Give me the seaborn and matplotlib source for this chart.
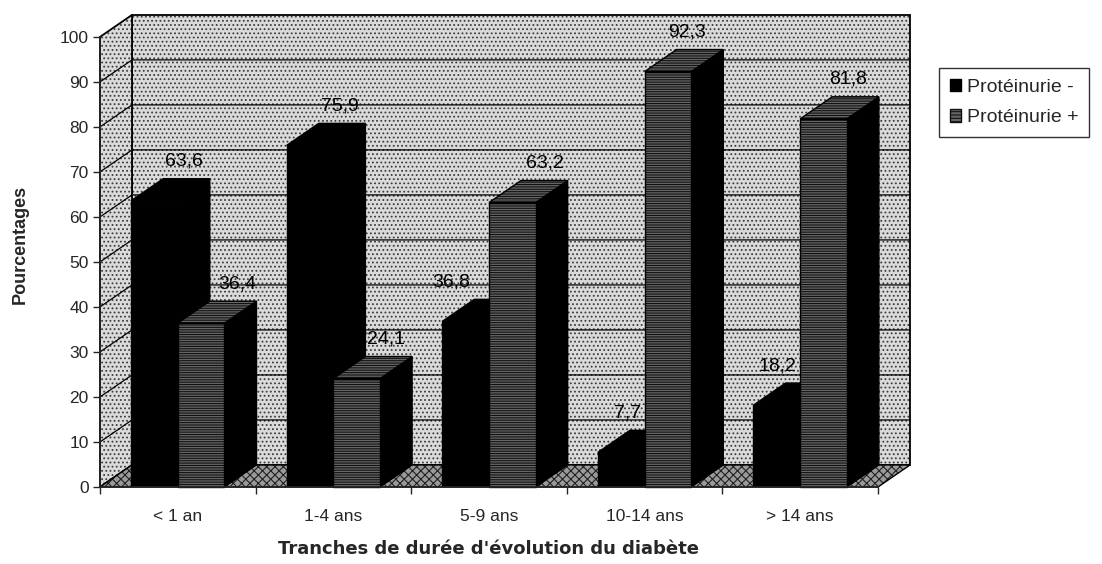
import matplotlib
matplotlib.use("Agg")
import matplotlib.pyplot as plt
from matplotlib.patches import Polygon, Patch
import numpy as np
import pandas as pd
import seaborn as sns

categories = ["< 1 an", "1-4 ans", "5-9 ans", "10-14 ans", "> 14 ans"]
series_names = ["Protéinurie -", "Protéinurie +"]
prot_neg = [63.6, 75.9, 36.8, 7.7, 18.2]
prot_pos = [36.4, 24.1, 63.2, 92.3, 81.8]
y_ticks = list(range(0, 101, 10))

df = pd.DataFrame({
    "tranche": categories * 2,
    "serie": [series_names[0]] * 5 + [series_names[1]] * 5,
    "pct": prot_neg + prot_pos,
})

# horizontal nudge of each value label (pixels), Excel-like placement
label_shift_px = {0: [30, 30, -14, 6, 1], 1: [36, 29, 33, 19, 25]}

sns.set_style("white")
plt.rcParams["font.family"] = ["Liberation Sans", "DejaVu Sans"]
plt.rcParams["hatch.linewidth"] = 0.8

fig = plt.figure(figsize=(11.02, 5.64), dpi=100)
ax = fig.add_axes([0.0907, 0.1365, 0.706, 0.798])

sns.barplot(data=df, x="tranche", y="pct", hue="serie", order=categories,
            hue_order=series_names, palette=["black", "#555555"],
            width=0.6, gap=0, saturation=1, legend=False, ax=ax)

ax.set_xlim(-0.5, 4.5)
ax.set_ylim(0, 100)

# depth offset of the 3D look, in data units
dx, dy = 0.206, 4.9
x0, x1 = -0.5, 4.5
STRIPE_FACE, STRIPE_LINE = "#666666", "#111111"


def poly(pts, face, hatch=None, hatch_col=None, z=1, lw=1.0):
    if hatch:
        ax.add_patch(Polygon(pts, closed=True, facecolor=face, edgecolor=hatch_col,
                             hatch=hatch, linewidth=0, zorder=z, clip_on=False))
        ax.add_patch(Polygon(pts, closed=True, fill=False, edgecolor="black",
                             linewidth=lw, zorder=z, clip_on=False))
    else:
        ax.add_patch(Polygon(pts, closed=True, facecolor=face, edgecolor="black",
                             linewidth=lw, zorder=z, clip_on=False))


# walls and floor
poly([(x0 + dx, dy), (x1 + dx, dy), (x1 + dx, 100 + dy), (x0 + dx, 100 + dy)],
     "#dadada", "....", "#3c3c3c", z=0.5, lw=1.3)
poly([(x0, 0), (x0 + dx, dy), (x0 + dx, 100 + dy), (x0, 100)],
     "#dadada", "....", "#3c3c3c", z=0.6, lw=1.3)
poly([(x0, 0), (x1, 0), (x1 + dx, dy), (x0 + dx, dy)],
     "#9a9a9a", "xxxx", "#222222", z=0.7, lw=1.0)

# grid lines on the back and side walls
for v in y_ticks[1:-1]:
    ax.plot([x0, x0 + dx, x1 + dx], [v, v + dy, v + dy], color="black",
            lw=0.9, zorder=0.8, clip_on=False)

# turn the flat bars into prisms
pieces = []
for k, cont in enumerate(ax.containers):
    for j, bar in enumerate(cont):
        pieces.append((bar.get_x(), k, j, bar))
pieces.sort(key=lambda t: t[0])

for i, (x, k, j, bar) in enumerate(pieces):
    w, h = bar.get_width(), bar.get_height()
    z = 2 + i
    side = [(x + w, 0), (x + w + dx, dy), (x + w + dx, h + dy), (x + w, h)]
    top = [(x, h), (x + w, h), (x + w + dx, h + dy), (x + dx, h + dy)]
    bar.set_zorder(z + 0.5)
    poly(side, "black", z=z)
    if k == 0:
        bar.set_facecolor("black")
        bar.set_edgecolor("black")
        poly(top, "black", z=z)
    else:
        bar.set_facecolor(STRIPE_FACE)
        bar.set_edgecolor(STRIPE_LINE)
        bar.set_hatch("-------")
        bar.set_linewidth(0)
        poly(top, STRIPE_FACE, "-------", STRIPE_LINE, z=z)
        poly([(x, 0), (x + w, 0), (x + w, h), (x, h)], "none", z=z + 0.6)
    label = f"{h:.1f}".replace(".", ",")
    ax.annotate(label, (x + w / 2, h + dy),
                xytext=(label_shift_px[k][j] * 0.72, 12.5),
                textcoords="offset points", ha="center", va="center",
                fontsize=14, color="black", zorder=50, annotation_clip=False)

# axes styling
for s in ["top", "right"]:
    ax.spines[s].set_visible(False)
ax.spines["left"].set_linewidth(1.2)
ax.spines["bottom"].set_linewidth(1.2)
ax.spines["left"].set_zorder(40)
ax.spines["bottom"].set_zorder(40)

ax.set_yticks(y_ticks)
ax.set_yticklabels([str(v) for v in y_ticks])
ax.tick_params(axis="y", length=5, width=1, direction="out", pad=3,
               labelsize=12.5, left=True)
ax.set_xticks(range(len(categories)))
ax.set_xticklabels(categories)
ax.set_xticks(np.arange(-0.5, 5.0, 1.0), minor=True)
ax.tick_params(axis="x", which="major", length=0, pad=16, labelsize=12.5)
ax.tick_params(axis="x", which="minor", length=5, width=1, direction="out",
               bottom=True)

ax.set_ylabel("Pourcentages", fontsize=13, fontweight="bold")
ax.yaxis.set_label_coords(-0.092, 0.538)
ax.set_xlabel("Tranches de durée d'évolution du diabète", fontsize=13,
              fontweight="bold", labelpad=11, family=["DejaVu Sans"])

handles = [Patch(facecolor="black", edgecolor="black"),
           Patch(facecolor=STRIPE_FACE, edgecolor=STRIPE_LINE, hatch="-----")]
leg = fig.legend(handles, series_names, loc="upper left",
                 bbox_to_anchor=(0.852, 0.8794), borderaxespad=0,
                 frameon=True, fancybox=False, fontsize=14,
                 handlelength=0.6, handleheight=0.6, handletextpad=0.3,
                 labelspacing=0.7, borderpad=0.55)
leg.get_frame().set_edgecolor("black")
leg.get_frame().set_linewidth(1.0)

fig.savefig("out.png", dpi=100)
